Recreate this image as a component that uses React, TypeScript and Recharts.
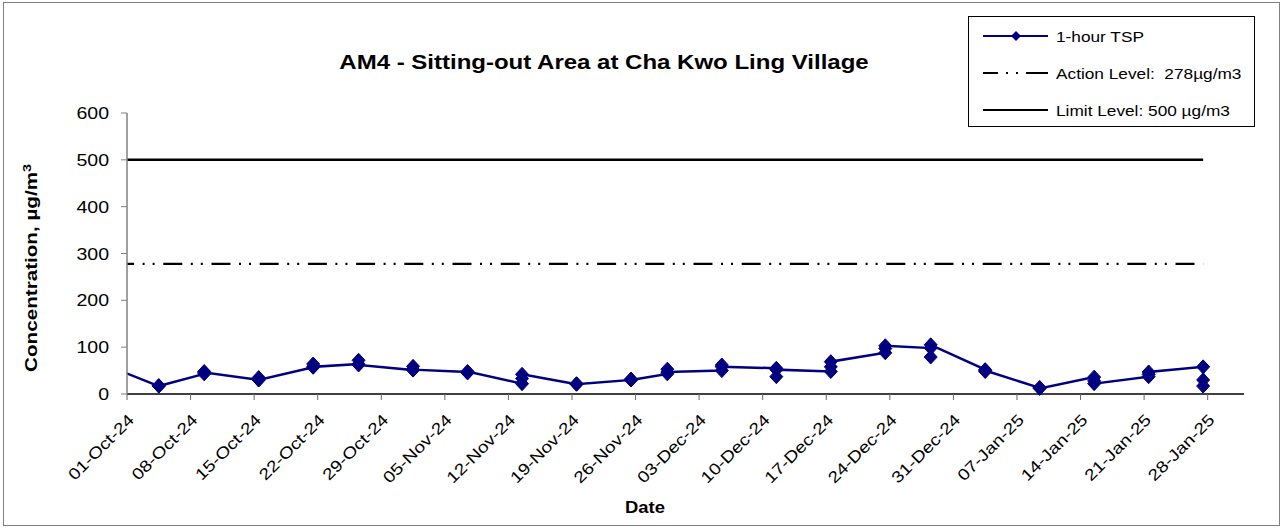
import { LineChart, Line, XAxis, YAxis } from "recharts"

// sampling dates (3 x 1-hour readings each); the first one falls before the axis start and is clipped
const sampleDates = [
  "2024-09-28", "2024-10-04", "2024-10-09", "2024-10-15", "2024-10-21", "2024-10-26",
  "2024-11-01", "2024-11-07", "2024-11-13", "2024-11-19", "2024-11-25", "2024-11-29",
  "2024-12-05", "2024-12-11", "2024-12-17", "2024-12-23", "2024-12-28",
  "2025-01-03", "2025-01-09", "2025-01-15", "2025-01-21", "2025-01-27",
]

const tspReadings = [
  [55, 60, 63], [17, 18, 17], [43, 48, 46], [30, 35, 30], [57, 64, 58], [64, 72, 62],
  [51, 59, 52], [47, 45, 48], [22, 33, 42], [21, 22, 21], [30, 32, 30], [43, 53, 47],
  [50, 62, 58], [55, 37, 52], [48, 58, 69], [88, 97, 103], [98, 79, 105],
  [52, 48, 50], [13, 14, 12], [36, 28, 22], [37, 42, 47], [58, 30, 17],
]

const actionLevel = 278
const limitLevel = 500

const yTicks = [0, 100, 200, 300, 400, 500, 600]

const xTickLabels = [
  "01-Oct-24", "08-Oct-24", "15-Oct-24", "22-Oct-24", "29-Oct-24", "05-Nov-24",
  "12-Nov-24", "19-Nov-24", "26-Nov-24", "03-Dec-24", "10-Dec-24", "17-Dec-24",
  "24-Dec-24", "31-Dec-24", "07-Jan-25", "14-Jan-25", "21-Jan-25", "28-Jan-25",
]

const axisStart = "2024-10-01"
const axisEnd = "2025-02-01"

const MONTHS = ["Jan", "Feb", "Mar", "Apr", "May", "Jun", "Jul", "Aug", "Sep", "Oct", "Nov", "Dec"]
const DAY = 86400000

const dayOf = (iso: string) => {
  const [y, m, d] = iso.split("-").map(Number)
  const [sy, sm, sd] = axisStart.split("-").map(Number)
  return (Date.UTC(y, m - 1, d) - Date.UTC(sy, sm - 1, sd)) / DAY
}

const labelToIso = (label: string) => {
  const [d, mon, yy] = label.split("-")
  const m = MONTHS.indexOf(mon) + 1
  return `20${yy}-${String(m).padStart(2, "0")}-${d}`
}

const tickDays = xTickLabels.map((l) => dayOf(labelToIso(l)))
const labelByDay: Record<number, string> = {}
tickDays.forEach((d, i) => (labelByDay[d] = xTickLabels[i]))

// points sit in the middle of their day (Excel date axis, between tick marks)
const rows = sampleDates.flatMap((date, i) =>
  tspReadings[i].map((v) => ({ day: dayOf(date) + 0.5, tsp: v, action: actionLevel, limit: limitLevel }))
)

const FONT = "'Liberation Sans', Arial, sans-serif"
const NAVY = "#000080"

function Diamond(props: any) {
  const { cx, cy, index } = props
  if (cx == null || cy == null) return <g key={`d-${index}`} />
  return (
    <polygon
      key={`d-${index}`}
      points={`${cx},${cy - 7} ${cx + 6.5},${cy} ${cx},${cy + 7} ${cx - 6.5},${cy}`}
      fill={NAVY}
      stroke={NAVY}
      strokeWidth={1}
    />
  )
}

function DateTick(props: any) {
  const { x, y, payload } = props
  return (
    <g transform={`translate(${x + 8},${y + 19}) rotate(-45) scale(1.2,1)`}>
      <text x={0} y={0} textAnchor="end" fontSize={16} fontFamily={FONT} fill="#000">
        {labelByDay[payload.value]}
      </text>
    </g>
  )
}

function ValueTick(props: any) {
  const { x, y, payload } = props
  return (
    <g transform={`translate(${x},${y}) scale(1.15,1)`}>
      <text x={0} y={0} dy="0.355em" textAnchor="end" fontSize={17} fontFamily={FONT} fill="#000">
        {payload.value}
      </text>
    </g>
  )
}

function LegendBox() {
  const items = [
    { label: "1-hour TSP", kind: "tsp" },
    { label: "Action Level:  278µg/m3", kind: "action" },
    { label: "Limit Level: 500 µg/m3", kind: "limit" },
  ]
  return (
    <div
      style={{
        position: "absolute",
        left: 968,
        top: 16,
        width: 287,
        height: 111,
        border: "1px solid #000",
        background: "#fff",
        boxSizing: "border-box",
        fontFamily: FONT,
        fontSize: 15,
      }}
    >
      {items.map((r, i) => (
        <div
          key={r.kind}
          style={{ position: "absolute", left: 14, top: 8 + i * 37, height: 22, display: "flex", alignItems: "center", whiteSpace: "pre" }}
        >
          <svg width={66} height={16} style={{ marginRight: 7 }}>
            {r.kind === "tsp" && (
              <>
                <line x1={0} y1={8} x2={65} y2={8} stroke={NAVY} strokeWidth={2} />
                <polygon points="33,3 38,8 33,13 28,8" fill={NAVY} />
              </>
            )}
            {r.kind === "action" && (
              <line x1={0} y1={8} x2={65} y2={8} stroke="#000" strokeWidth={2.2} strokeDasharray="15 8 2 8 2 8 22" />
            )}
            {r.kind === "limit" && <line x1={0} y1={8} x2={65} y2={8} stroke="#000" strokeWidth={2.2} />}
          </svg>
          <span style={{ display: "inline-block", transform: "scaleX(1.15)", transformOrigin: "left center" }}>{r.label}</span>
        </div>
      ))}
    </div>
  )
}

export default function App() {
  return (
    <div style={{ position: "absolute", left: 0, top: 0, width: 1282, height: 528, background: "#fff", fontFamily: FONT }}>
      <div
        style={{
          position: "absolute",
          left: 3,
          top: 2,
          width: 1277,
          height: 524,
          border: "1.5px solid #808080",
          boxSizing: "border-box",
        }}
      />
      <LineChart width={1282} height={528} data={rows} margin={{ top: 113, right: 38, left: 0, bottom: 0 }}>
        <XAxis
          dataKey="day"
          type="number"
          domain={[0, dayOf(axisEnd)]}
          allowDataOverflow
          ticks={tickDays}
          interval={0}
          tick={<DateTick />}
          tickSize={6}
          height={134}
          axisLine={{ stroke: "#000", strokeWidth: 1.5 }}
          tickLine={{ stroke: "#666" }}
        />
        <YAxis
          type="number"
          domain={[0, 600]}
          ticks={yTicks}
          interval={0}
          width={127}
          tickSize={6}
          tickMargin={12}
          tick={<ValueTick />}
          axisLine={{ stroke: "#808080", strokeWidth: 1.5 }}
          tickLine={{ stroke: "#808080" }}
        />
        <Line dataKey="limit" stroke="#000" strokeWidth={2.5} dot={false} isAnimationActive={false} />
        <Line
          dataKey="action"
          stroke="#000"
          strokeWidth={2.2}
          strokeDasharray="19 8.5 2 8 2 8.7"
          strokeDashoffset={37.4}
          dot={false}
          isAnimationActive={false}
        />
        <Line dataKey="tsp" stroke={NAVY} strokeWidth={2.5} dot={<Diamond />} activeDot={false} isAnimationActive={false} />
      </LineChart>
      <div
        style={{
          position: "absolute",
          left: 604,
          top: 62,
          transform: "translate(-50%, -50%) scaleX(1.2)",
          fontWeight: "bold",
          fontSize: 20,
          whiteSpace: "nowrap",
        }}
      >
        AM4 - Sitting-out Area at Cha Kwo Ling Village
      </div>
      <div
        style={{
          position: "absolute",
          left: 31,
          top: 268,
          transform: "translate(-50%, -50%) rotate(-90deg) scaleX(1.29)",
          fontWeight: "bold",
          fontSize: 16,
          whiteSpace: "nowrap",
        }}
      >
        Concentration, µg/m<sup style={{ fontSize: 11 }}>3</sup>
      </div>
      <div
        style={{
          position: "absolute",
          left: 645,
          top: 508,
          transform: "translate(-50%, -50%) scaleX(1.15)",
          fontWeight: "bold",
          fontSize: 16,
        }}
      >
        Date
      </div>
      <LegendBox />
    </div>
  )
}
